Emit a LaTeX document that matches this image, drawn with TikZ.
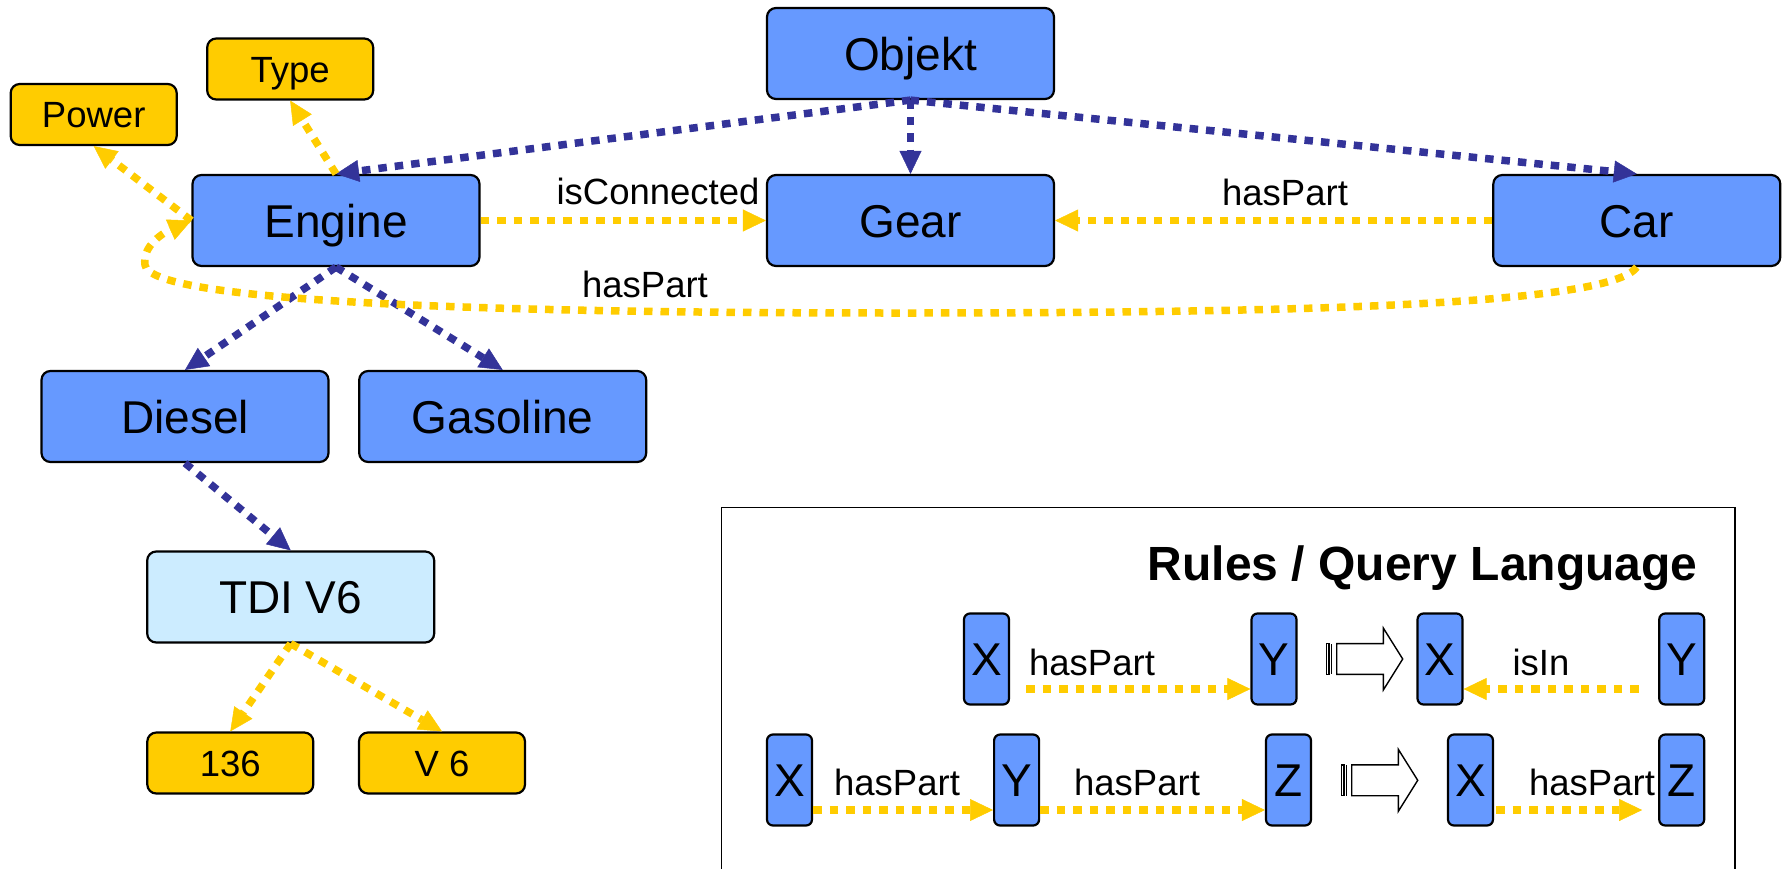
\documentclass[tikz,border=0pt]{standalone}
\usepackage{fontspec}
\setmainfont{Liberation Sans}
\usetikzlibrary{arrows.meta,calc}

\definecolor{nodeblue}{RGB}{102,153,255}
\definecolor{paleblue}{RGB}{204,236,255}
\definecolor{attryellow}{RGB}{255,204,0}
\definecolor{linkblue}{RGB}{51,51,153}

\tikzset{
  box/.style={draw=black, line width=2.2pt, rounded corners=9pt, inner sep=0pt, text depth=0pt},
  concept/.style={box, fill=nodeblue, minimum width=287pt, minimum height=91pt,
    font=\fontsize{46}{50}\selectfont, text height=33pt},
  instance/.style={concept, fill=paleblue},
  attr/.style={box, fill=attryellow, minimum width=166pt, minimum height=61pt,
    font=\fontsize{36.5}{40}\selectfont, text height=26pt},
  var/.style={box, fill=nodeblue, minimum width=45pt, minimum height=91pt, rounded corners=6pt,
    font=\fontsize{46}{50}\selectfont, text height=33pt},
  lbl/.style={font=\fontsize{36.5}{40}\selectfont, inner sep=0pt, anchor=base},
  dotlink/.style={line width=7.5pt, dash pattern=on 8.5pt off 8pt,
    -{Triangle[length=23pt,width=22pt,line width=0.5pt]}},
  isa/.style={dotlink, draw=linkblue},
  rel/.style={dotlink, draw=attryellow},
  implies/.pic={
    \draw[line width=1.4pt] (0.7,-15.4) rectangle (3.0,15.4);
    \fill (4.6,-15.4) rectangle (6.2,15.4);
    \draw[line width=1.4pt, fill=white] (10.7,-15.4) -- (57.3,-15.4) -- (57.3,-31) -- (76.7,0)
      -- (57.3,31) -- (57.3,15.4) -- (10.7,15.4) -- cycle;
  }
}

\begin{document}
\begin{tikzpicture}[x=1pt,y=-1pt]
\useasboundingbox (0,0) rectangle (1784,868);

% concept hierarchy
\node[concept] (objekt) at (910.5,53.5) {Objekt};
\node[concept] (engine) at (336,220.5) {Engine};
\node[concept] (gear) at (910.5,220.5) {Gear};
\node[concept] (car) at (1636.8,220.5) {Car};
\node[concept] (diesel) at (185,416.5) {Diesel};
\node[concept] (gasoline) at (502.7,416.5) {Gasoline};
\node[instance] (tdi) at (290.7,597) {TDI V6};

% attributes
\node[attr] (power) at (93.7,114.5) {Power};
\node[attr] (type) at (290.2,69) {Type};
\node[attr] (hp) at (230.3,763) {136};
\node[attr] (cyl) at (442,763) {V 6};

% subclass links
\draw[isa] (objekt.south) -- (engine.north);
\draw[isa] (objekt.south) -- (gear.north);
\draw[isa] (objekt.south) -- (car.north);
\draw[isa] (engine.south) -- (diesel.north);
\draw[isa] (engine.south) -- (gasoline.north);
\draw[isa] (diesel.south) -- (tdi.north);

% relations and attribute links
\draw[rel] (engine.north) -- (type.south);
\draw[rel] (engine.west) -- (power.south);
\draw[rel] (engine.east) -- (gear.west);
\draw[rel] (car.west) -- (gear.east);
\draw[rel] (car.south) .. controls (1610,305) and (1300,313) .. (900,313)
  .. controls (450,313) and (150,300) .. (145,265)
  .. controls (142,245) and (165,232) .. (engine.west);
\draw[rel] (tdi.south) -- (hp.north);
\draw[rel] (tdi.south) -- (cyl.north);

\node[lbl] (lconn) at (658,204) {isConnected};
\node[lbl] (lgear) at (1285,205) {hasPart};
\node[lbl] (lcar) at (645,297) {hasPart};

% rules panel
\draw[line width=1.5pt] (721.4,875) -- (721.4,507.3) -- (1735,507.3) -- (1735,875);
\node[font=\bfseries\fontsize{48}{52}\selectfont, anchor=base east, inner sep=0pt] (title)
  at (1697.6,580) {Rules / Query Language};

\node[var] (ax) at (986.5,659) {X};
\node[var] (ay) at (1274,659) {Y};
\node[var] (bx) at (1440,659) {X};
\node[var] (by) at (1681.7,659) {Y};
\node[var] (cx) at (789.5,780) {X};
\node[var] (cy) at (1016.6,780) {Y};
\node[var] (cz) at (1288.5,780) {Z};
\node[var] (dx) at (1470.5,780) {X};
\node[var] (dz) at (1681.7,780) {Z};

\draw[rel] ($(ax.east)+(16,30)$) -- ($(ay.west)+(0,30)$);
\draw[rel] ($(by.west)+(-19.5,30)$) -- ($(bx.east)+(0,30)$);
\draw[rel] ($(cx.east)+(0,30)$) -- ($(cy.west)+(0,30)$);
\draw[rel] ($(cy.east)+(0,30)$) -- ($(cz.west)+(0,30)$);
\draw[rel] ($(dx.east)+(2,30)$) -- ($(dz.west)+(-16,30)$);

\node[lbl] (l1) at (1092,675) {hasPart};
\node[lbl] (l2) at (1541,675) {isIn};
\node[lbl] (l3) at (897,795) {hasPart};
\node[lbl] (l4) at (1137,795) {hasPart};
\node[lbl] (l5) at (1592,795) {hasPart};

\pic at (1326,659) {implies};
\pic at (1341,780.3) {implies};
\end{tikzpicture}
\end{document}
